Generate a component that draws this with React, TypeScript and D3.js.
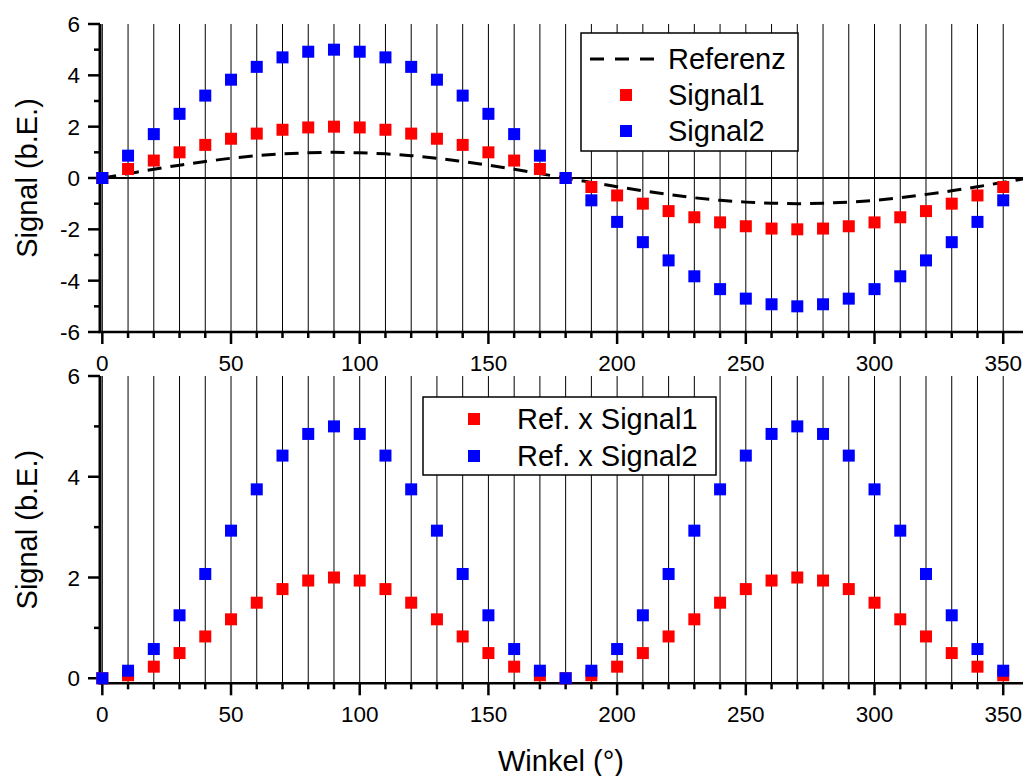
import React from 'react';
import * as d3 from 'd3';

const angles = [0, 10, 20, 30, 40, 50, 60, 70, 80, 90, 100, 110, 120, 130, 140, 150, 160, 170, 180, 190, 200, 210, 220, 230, 240, 250, 260, 270, 280, 290, 300, 310, 320, 330, 340, 350];
const signal1 = [0, 0.35, 0.68, 1.0, 1.29, 1.53, 1.73, 1.88, 1.97, 2.0, 1.97, 1.88, 1.73, 1.53, 1.29, 1.0, 0.68, 0.35, 0, -0.35, -0.68, -1.0, -1.29, -1.53, -1.73, -1.88, -1.97, -2.0, -1.97, -1.88, -1.73, -1.53, -1.29, -1.0, -0.68, -0.35];
const signal2 = [0, 0.87, 1.71, 2.5, 3.21, 3.83, 4.33, 4.7, 4.92, 5.0, 4.92, 4.7, 4.33, 3.83, 3.21, 2.5, 1.71, 0.87, 0, -0.87, -1.71, -2.5, -3.21, -3.83, -4.33, -4.7, -4.92, -5.0, -4.92, -4.7, -4.33, -3.83, -3.21, -2.5, -1.71, -0.87];
const refAngles = [0, 10, 20, 30, 40, 50, 60, 70, 80, 90, 100, 110, 120, 130, 140, 150, 160, 170, 180, 190, 200, 210, 220, 230, 240, 250, 260, 270, 280, 290, 300, 310, 320, 330, 340, 350, 360];
const referenz = [0, 0.17, 0.34, 0.5, 0.64, 0.77, 0.87, 0.94, 0.98, 1.0, 0.98, 0.94, 0.87, 0.77, 0.64, 0.5, 0.34, 0.17, 0, -0.17, -0.34, -0.5, -0.64, -0.77, -0.87, -0.94, -0.98, -1.0, -0.98, -0.94, -0.87, -0.77, -0.64, -0.5, -0.34, -0.17, 0];
const prod1 = [0, 0.06, 0.23, 0.5, 0.83, 1.17, 1.5, 1.77, 1.94, 2.0, 1.94, 1.77, 1.5, 1.17, 0.83, 0.5, 0.23, 0.06, 0, 0.06, 0.23, 0.5, 0.83, 1.17, 1.5, 1.77, 1.94, 2.0, 1.94, 1.77, 1.5, 1.17, 0.83, 0.5, 0.23, 0.06];
const prod2 = [0, 0.15, 0.58, 1.25, 2.07, 2.93, 3.75, 4.42, 4.85, 5.0, 4.85, 4.42, 3.75, 2.93, 2.07, 1.25, 0.58, 0.15, 0, 0.15, 0.58, 1.25, 2.07, 2.93, 3.75, 4.42, 4.85, 5.0, 4.85, 4.42, 3.75, 2.93, 2.07, 1.25, 0.58, 0.15];

const xMajor = [0, 50, 100, 150, 200, 250, 300, 350];
const xMinor = [10, 20, 30, 40, 60, 70, 80, 90, 110, 120, 130, 140, 160, 170, 180, 190, 210, 220, 230, 240, 260, 270, 280, 290, 310, 320, 330, 340, 360];
const gridX = [0, 10, 20, 30, 40, 50, 60, 70, 80, 90, 100, 110, 120, 130, 140, 150, 160, 170, 180, 190, 200, 210, 220, 230, 240, 250, 260, 270, 280, 290, 300, 310, 320, 330, 340, 350, 360];
const yTopMajor = [-6, -4, -2, 0, 2, 4, 6];
const yTopMinor = [-5, -3, -1, 1, 3, 5];
const yBotMajor = [0, 2, 4, 6];
const yBotMinor = [1, 3, 5];

const FONT = '"Liberation Sans", Arial, Helvetica, sans-serif';
const RED = '#ff0000';
const BLUE = '#0000ff';
const MS = 12;

export default function App() {
  const W = 1023, H = 776;
  const x = d3.scaleLinear().domain([-0.9, 370]).range([100, 100 + 370.9 * 2.574]);
  const yTop = d3.scaleLinear().domain([-6, 6]).range([332, 24]);
  const yBot = d3.scaleLinear().domain([-0.1, 6]).range([683.3, 376]);
  const xL = x.range()[0];
  const xR = x.range()[1];

  const refLine = d3.line<number>()
    .x((_, i) => x(refAngles[i]))
    .y((d) => yTop(d))
    .curve(d3.curveMonotoneX);

  const panel = (y: d3.ScaleLinear<number, number>, major: number[], minor: number[], top: number, bottom: number) => (
    <g>
      {gridX.map((g) => (
        <line key={'g' + g} x1={x(g)} x2={x(g)} y1={top} y2={bottom} stroke="#000" strokeWidth={1} />
      ))}
      <line x1={xL - 1.5} x2={xR} y1={bottom} y2={bottom} stroke="#000" strokeWidth={2.5} />
      {xMajor.map((t) => (
        <line key={'xm' + t} x1={x(t)} x2={x(t)} y1={bottom} y2={bottom + 12} stroke="#000" strokeWidth={2.5} />
      ))}
      {xMinor.map((t) => (
        <line key={'xn' + t} x1={x(t)} x2={x(t)} y1={bottom} y2={bottom + 6} stroke="#000" strokeWidth={2.5} />
      ))}
      {xMajor.map((t) => (
        <text key={'xl' + t} x={x(t)} y={bottom + 39} textAnchor="middle" fontFamily={FONT} fontSize={22.5} fill="#000">{t}</text>
      ))}
      <line x1={xL} x2={xL} y1={top} y2={bottom + 1} stroke="#000" strokeWidth={3} />
      {major.map((t) => (
        <line key={'ym' + t} x1={xL - 12} x2={xL} y1={y(t)} y2={y(t)} stroke="#000" strokeWidth={2.5} />
      ))}
      {minor.map((t) => (
        <line key={'yn' + t} x1={xL - 6} x2={xL} y1={y(t)} y2={y(t)} stroke="#000" strokeWidth={2.5} />
      ))}
      {major.map((t) => (
        <text key={'yl' + t} x={xL - 20} y={y(t)} dy="0.36em" textAnchor="end" fontFamily={FONT} fontSize={22.5} fill="#000">{t}</text>
      ))}
    </g>
  );

  const squares = (vals: number[], y: d3.ScaleLinear<number, number>, color: string, k: string) =>
    vals.map((v, i) => (
      <rect key={k + i} x={x(angles[i]) - MS / 2} y={y(v) - MS / 2} width={MS} height={MS} fill={color} />
    ));

  return (
    <svg width={W} height={H} style={{ position: 'absolute', left: 0, top: 0, background: '#fff' }}>
      <rect x={0} y={0} width={W} height={H} fill="#fff" />
      {panel(yTop, yTopMajor, yTopMinor, yTop(6), yTop(-6))}
      <line x1={xL} x2={xR} y1={yTop(0)} y2={yTop(0)} stroke="#000" strokeWidth={2} />
      <path d={refLine(referenz) || ''} fill="none" stroke="#000" strokeWidth={3} strokeDasharray="14,9" />
      {squares(signal1, yTop, RED, 's1')}
      {squares(signal2, yTop, BLUE, 's2')}

      <rect x={581} y={33} width={217} height={118} fill="#fff" stroke="#000" strokeWidth={1.5} />
      <line x1={590} x2={658} y1={59} y2={59} stroke="#000" strokeWidth={3} strokeDasharray="14,11" />
      <rect x={626 - MS / 2} y={95 - MS / 2} width={MS} height={MS} fill={RED} />
      <rect x={626 - MS / 2} y={131 - MS / 2} width={MS} height={MS} fill={BLUE} />
      <text x={668} y={59} dy="0.36em" fontFamily={FONT} fontSize={29} fill="#000">Referenz</text>
      <text x={668} y={95} dy="0.36em" fontFamily={FONT} fontSize={29} fill="#000">Signal1</text>
      <text x={668} y={131} dy="0.36em" fontFamily={FONT} fontSize={29} fill="#000">Signal2</text>

      {panel(yBot, yBotMajor, yBotMinor, yBot(6), yBot(-0.1))}
      {squares(prod1, yBot, RED, 'p1')}
      {squares(prod2, yBot, BLUE, 'p2')}

      <rect x={423} y={397} width={293} height={78} fill="#fff" stroke="#000" strokeWidth={1.5} />
      <rect x={474 - MS / 2} y={419 - MS / 2} width={MS} height={MS} fill={RED} />
      <rect x={474 - MS / 2} y={456 - MS / 2} width={MS} height={MS} fill={BLUE} />
      <text x={517} y={419} dy="0.36em" fontFamily={FONT} fontSize={29} fill="#000">Ref. x Signal1</text>
      <text x={517} y={456} dy="0.36em" fontFamily={FONT} fontSize={29} fill="#000">Ref. x Signal2</text>

      <text transform={`translate(37,${(yTop(6) + yTop(-6)) / 2}) rotate(-90)`} textAnchor="middle" fontFamily={FONT} fontSize={29} fill="#000">Signal (b.E.)</text>
      <text transform={`translate(37,${(yBot(6) + yBot(-0.1)) / 2}) rotate(-90)`} textAnchor="middle" fontFamily={FONT} fontSize={29} fill="#000">Signal (b.E.)</text>
      <text x={561} y={771} textAnchor="middle" fontFamily={FONT} fontSize={29} fill="#000">Winkel (°)</text>
    </svg>
  );
}
